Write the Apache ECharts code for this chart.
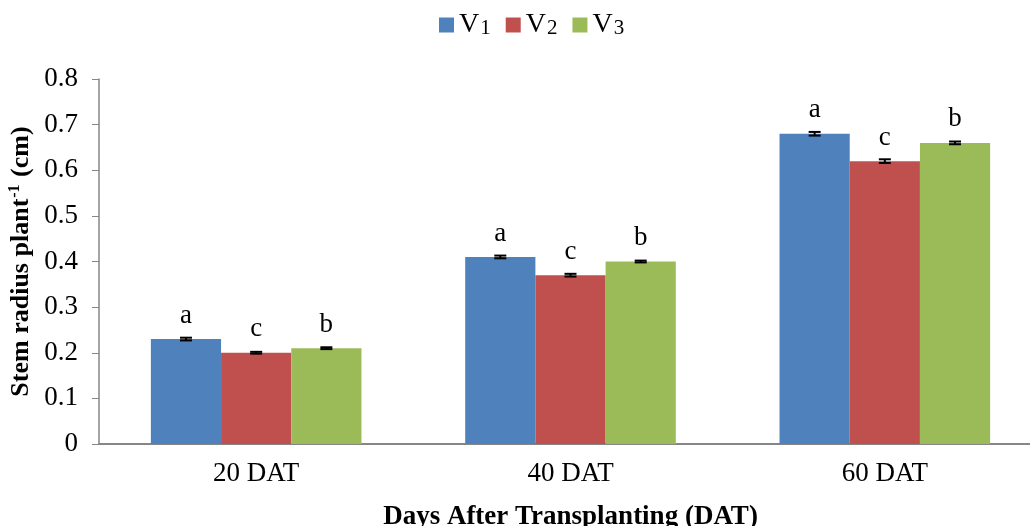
<!DOCTYPE html>
<html>
<head>
<meta charset="utf-8">
<script src="https://cdn.jsdelivr.net/npm/echarts@6/dist/echarts.min.js"></script>
<style>
  html, body { margin: 0; padding: 0; background: #fff; }
  #chart { width: 1030px; height: 526px; }
</style>
</head>
<body>
<div id="chart"></div>
<script>
// data
var categories = ['20 DAT', '40 DAT', '60 DAT'];
var seriesNames = ['V1', 'V2', 'V3'];
var v1 = [0.23, 0.41, 0.68];
var v2 = [0.20, 0.37, 0.62];
var v3 = [0.21, 0.40, 0.66];
var v1Err = [0.003, 0.003, 0.004];
var v2Err = [0.002, 0.003, 0.004];
var v3Err = [0.002, 0.002, 0.003];
var v1Letters = ['a', 'a', 'a'];
var v2Letters = ['c', 'c', 'c'];
var v3Letters = ['b', 'b', 'b'];
var yTicks = [0, 0.1, 0.2, 0.3, 0.4, 0.5, 0.6, 0.7, 0.8];

var colors = ['#4F81BD', '#C0504D', '#9BBB59'];
var serif = '"Liberation Serif", "DejaVu Serif", serif';
var catGap = 0.33;

function barSeries(idx, values, letters) {
    return {
        name: seriesNames[idx],
        type: 'bar',
        data: values,
        barGap: '0%',
        barCategoryGap: (catGap * 100) + '%',
        itemStyle: { color: colors[idx] },
        label: {
            show: true,
            position: 'top',
            distance: 10,
            color: '#000',
            fontFamily: serif,
            fontSize: 27,
            formatter: function (p) { return letters[p.dataIndex]; }
        }
    };
}

function errSeries(idx, values, errs) {
    var rows = values.map(function (v, i) { return [i, v, errs[i]]; });
    return {
        type: 'custom',
        z: 5,
        silent: true,
        data: rows,
        renderItem: function (params, api) {
            var band = api.size([1, 0])[0];
            var barW = band * (1 - catGap) / 3;
            var x = api.coord([api.value(0), 0])[0] + (idx - 1) * barW;
            var hi = api.coord([api.value(0), api.value(1) + api.value(2)])[1];
            var lo = api.coord([api.value(0), api.value(1) - api.value(2)])[1];
            var cap = 6;
            var st = { stroke: '#000', lineWidth: 2 };
            return {
                type: 'group',
                children: [
                    { type: 'line', shape: { x1: x, y1: hi, x2: x, y2: lo }, style: st },
                    { type: 'line', shape: { x1: x - cap, y1: hi, x2: x + cap, y2: hi }, style: st },
                    { type: 'line', shape: { x1: x - cap, y1: lo, x2: x + cap, y2: lo }, style: st }
                ]
            };
        }
    };
}

var myChart = echarts.init(document.getElementById('chart'));
var option = {
    animation: false,
    legend: {
        top: 6,
        left: 434,
        icon: 'rect',
        itemWidth: 15,
        itemHeight: 15,
        itemGap: 15,
        data: seriesNames,
        formatter: function (name) {
            return '{v|V}{n|' + name.slice(1) + '}';
        },
        textStyle: {
            rich: {
                v: { fontFamily: serif, fontSize: 28, color: '#000' },
                n: { fontFamily: serif, fontSize: 21, color: '#000', padding: [6, 0, 0, 1] }
            }
        }
    },
    grid: { left: 99, right: -12, top: 79, bottom: 82, outerBoundsMode: 'none' },
    xAxis: {
        type: 'category',
        data: categories,
        axisLine: { lineStyle: { color: '#868686', width: 2 } },
        axisTick: { show: false },
        axisLabel: { color: '#000', fontFamily: serif, fontSize: 27, margin: 16 },
        name: 'Days After Transplanting (DAT)',
        nameLocation: 'middle',
        nameGap: 60,
        nameMoveOverlap: false,
        nameTextStyle: { color: '#000', fontFamily: serif, fontSize: 27, fontWeight: 'bold' }
    },
    yAxis: {
        type: 'value',
        min: 0,
        max: 0.8,
        interval: 0.1,
        splitLine: { show: false },
        axisLine: { show: true, lineStyle: { color: '#868686', width: 1.5 } },
        axisTick: { show: true, inside: false, length: 7, lineStyle: { color: '#868686' } },
        axisLabel: {
            color: '#000', fontFamily: serif, fontSize: 27, margin: 21,
            formatter: function (v) {
                var t = yTicks.filter(function (k) { return Math.abs(k - v) < 1e-6; })[0];
                return t === 0 ? '0' : String(Math.round(t * 10) / 10);
            }
        },
        name: '{a|Stem radius plant}{s|-1}{a| (cm)}',
        nameLocation: 'middle',
        nameGap: 64,
        nameMoveOverlap: false,
        nameTextStyle: {
            rich: {
                a: { fontFamily: serif, fontSize: 26, fontWeight: 'bold', color: '#000' },
                s: { fontFamily: serif, fontSize: 16, fontWeight: 'bold', color: '#000', padding: [0, 1, 12, 1] }
            }
        }
    },
    series: [
        barSeries(0, v1, v1Letters),
        barSeries(1, v2, v2Letters),
        barSeries(2, v3, v3Letters),
        errSeries(0, v1, v1Err),
        errSeries(1, v2, v2Err),
        errSeries(2, v3, v3Err)
    ]
};
myChart.setOption(option);
</script>
</body>
</html>
